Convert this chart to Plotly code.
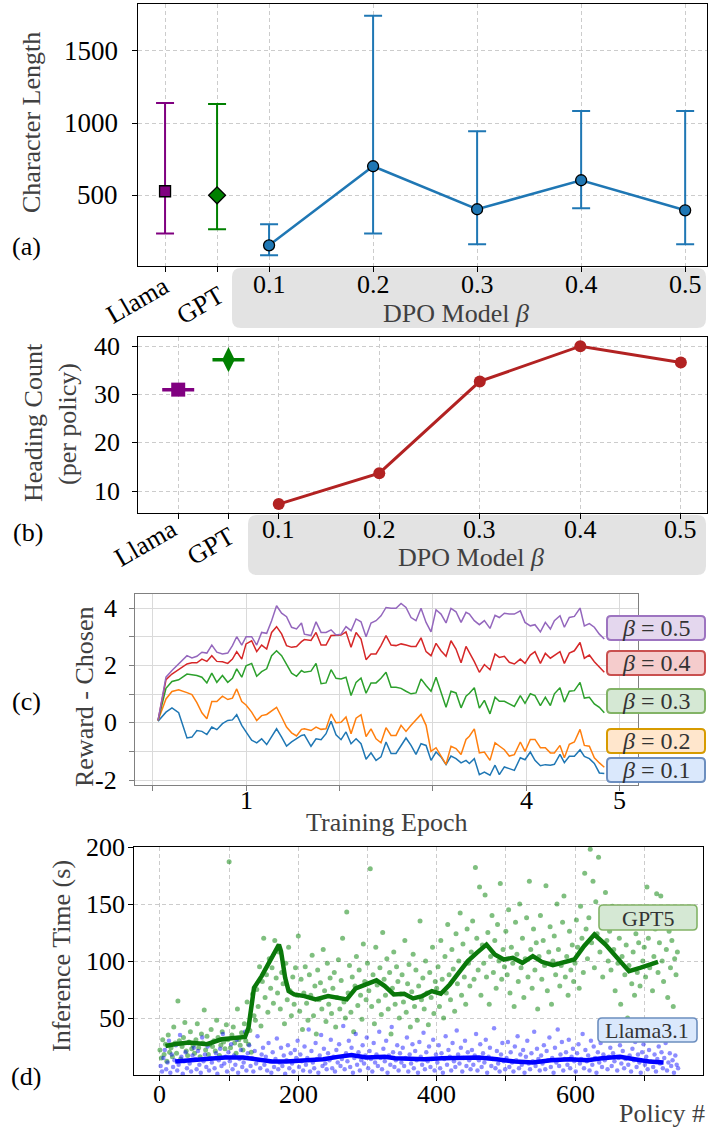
import plotly.graph_objects as go

W, H = 708, 1128
FONT = "Liberation Serif"
TITLE_COLOR = "#404040"

# ---------------- (a) character length ----------------
model_names = ["Llama", "GPT"]
model_pos = [0.0, 0.05]
model_colors = ["#800080", "#008000"]
char_len_model = [528, 500]
char_len_model_lo = [236, 264]
char_len_model_hi = [1139, 1132]

betas = [0.1, 0.2, 0.3, 0.4, 0.5]
beta_labels = ["0.1", "0.2", "0.3", "0.4", "0.5"]
char_len_beta = [153, 701, 403, 604, 396]
char_len_beta_lo = [85, 236, 160, 410, 160]
char_len_beta_hi = [299, 1743, 944, 1083, 1083]
char_len_ticks = [500, 1000, 1500]

# ---------------- (b) heading count ----------------
heading_model = [31.0, 37.2]
heading_beta = [7.3, 13.7, 32.7, 40.0, 36.6]
heading_ticks = [10, 20, 30, 40]

# ---------------- (c) chosen reward over training ----------------
epoch_ticks = [0, 1, 2, 3, 4, 5]
epoch_tick_text = ["", "1", "", "", "4", "5"]
reward_ticks = [-2, -1, 0, 1, 2, 3, 4]
reward_tick_text = ["-2", "", "0", "", "2", "", "4"]
epochs = [
    0.057, 0.142, 0.206, 0.278, 0.367, 0.420, 0.473, 0.527, 0.580, 0.633,
    0.687, 0.747, 0.804, 0.854, 0.900, 0.954, 1.000, 1.060, 1.114, 1.167,
    1.221, 1.274, 1.327, 1.381, 1.434, 1.488, 1.541, 1.594,
    1.625, 1.696, 1.750, 1.804, 1.857, 1.911, 1.964, 2.018, 2.071, 2.125,
    2.179, 2.232, 2.286, 2.339, 2.393, 2.446, 2.500, 2.554, 2.607, 2.661,
    2.714, 2.768, 2.821, 2.875, 2.929, 2.982, 3.036, 3.089, 3.143, 3.196,
    3.250, 3.304, 3.357,
    3.393, 3.446, 3.500, 3.554, 3.614, 3.668, 3.714, 3.768, 3.821, 3.875,
    3.939, 3.989, 4.046, 4.096, 4.154, 4.207, 4.261, 4.304, 4.364, 4.411,
    4.464, 4.518, 4.579, 4.625, 4.679, 4.732, 4.786, 4.839,
]
reward_b05 = [
    0.08, 1.59, 1.82, 2.05, 2.34, 2.26, 2.32, 2.46, 2.43, 2.71,
    2.46, 2.40, 2.43, 2.69, 3.00, 2.71, 3.00, 3.00, 2.71, 3.15,
    3.12, 3.56, 4.08, 3.82, 3.70, 3.33, 3.27, 3.48,
    3.09, 3.04, 3.52, 3.15, 3.15, 3.24, 3.06, 3.09, 3.35, 3.21,
    3.62, 3.52, 3.00, 3.48, 3.56, 3.73, 4.02, 3.99, 3.99, 4.16,
    4.02, 3.67, 3.56, 3.99, 3.50, 3.17, 3.94, 3.79, 3.48, 3.99,
    3.87, 3.50, 3.85,
    3.79, 3.56, 3.42, 3.56, 3.29, 3.75, 3.67, 3.82, 3.79, 3.79,
    3.90, 3.50, 3.38, 3.42, 3.17, 3.50, 3.27, 3.56, 3.73, 3.33,
    3.67, 3.71, 4.00, 3.38, 3.46, 3.33, 3.09, 2.92,
]
reward_b04 = [
    0.08, 1.50, 1.70, 1.85, 2.05, 2.09, 2.09, 2.22, 2.14, 2.34,
    2.14, 2.13, 2.07, 2.22, 2.48, 2.22, 2.75, 2.86, 2.48, 2.71,
    2.57, 3.15, 3.35, 3.10, 2.69, 2.63, 2.66, 2.83,
    2.90, 2.87, 3.15, 2.71, 2.71, 3.04, 3.04, 3.06, 3.17, 2.63,
    3.15, 2.92, 2.20, 2.40, 2.40, 2.69, 3.04, 2.71, 2.69, 2.75,
    2.71, 2.66, 2.66, 2.96, 2.48, 2.34, 2.77, 2.51, 2.32, 2.86,
    2.57, 2.09, 2.66,
    2.46, 2.13, 1.76, 2.03, 1.85, 2.40, 2.28, 2.32, 2.11, 2.05,
    2.22, 2.07, 2.36, 2.48, 2.07, 2.42, 2.25, 2.34, 2.48, 2.07,
    2.43, 2.51, 2.80, 2.25, 2.36, 2.13, 1.94, 1.76,
]
reward_b03 = [
    0.08, 1.20, 1.44, 1.50, 1.70, 1.68, 1.65, 1.59, 1.39, 1.73,
    1.41, 1.65, 1.41, 1.55, 1.88, 1.59, 1.99, 2.07, 1.62, 1.78,
    1.88, 2.34, 2.51, 2.34, 2.05, 1.73, 1.62, 1.82,
    1.76, 1.80, 2.07, 1.36, 1.39, 1.85, 1.55, 1.53, 1.59, 0.95,
    1.41, 1.56, 1.03, 1.39, 1.39, 1.55, 1.76, 1.24, 1.24, 1.20,
    1.10, 1.01, 1.04, 1.53, 1.30, 1.10, 1.59, 1.09, 0.54, 1.10,
    1.04, 0.52, 0.93,
    1.03, 1.22, 0.51, 0.78, 0.31, 0.89, 0.75, 0.75, 0.66, 0.57,
    0.95, 0.68, 1.01, 0.95, 0.60, 0.89, 0.60, 1.01, 1.22, 0.72,
    1.10, 1.12, 1.41, 0.86, 0.89, 0.66, 0.54, 0.35,
]
reward_b02 = [
    0.08, 0.83, 1.09, 1.15, 1.05, 0.98, 0.70, 0.35, 0.14, 0.74,
    0.74, 0.93, 0.81, 0.86, 1.18, 0.74, 0.62, 0.37, 0.08, 0.25,
    0.29, 0.41, 0.54, 0.20, -0.15, -0.35, -0.46, -0.23,
    -0.21, -0.27, -0.15, -0.23, -0.21, 0.31, 0.00, 0.02, 0.20, -0.38,
    0.16, 0.28, -0.48, -0.21, -0.56, -0.70, -0.17, -0.44, -0.44, -0.09,
    -0.30, -0.09, 0.08, 0.29, -0.09, -1.00, -0.87, -1.14, -1.45, -0.82,
    -0.90, -1.11, -0.58,
    -0.47, -0.21, -1.05, -1.02, -1.31, -0.70, -0.81, -0.94, -1.16, -1.11,
    -0.67, -1.00, -0.58, -0.58, -0.87, -0.87, -1.05, -1.05, -0.79, -1.22,
    -0.75, -0.67, -0.23, -0.79, -0.82, -1.22, -1.40, -1.55,
]
reward_b01 = [
    0.05, 0.37, 0.52, 0.35, -0.53, -0.50, -0.27, -0.30, -0.41, -0.15,
    -0.24, -0.03, 0.08, 0.10, 0.28, -0.09, -0.32, -0.61, -0.70, -0.56,
    -0.76, -0.46, -0.21, -0.50, -0.81, -0.67, -0.56, -0.44,
    -0.42, -0.82, -0.56, -0.59, -0.38, 0.05, -0.42, -0.59, -0.32, -0.73,
    -0.56, -0.73, -1.27, -1.05, -1.31, -1.19, -0.67, -1.07, -1.07, -0.79,
    -0.53, -0.79, -1.10, -0.73, -0.79, -1.31, -1.02, -1.19, -1.46, -1.16,
    -1.25, -1.40, -1.31,
    -1.42, -1.25, -1.81, -1.72, -1.83, -1.48, -1.81, -1.54, -1.60, -1.66,
    -1.22, -1.29, -1.02, -1.31, -1.50, -1.46, -1.48, -1.45, -1.10, -1.39,
    -1.17, -1.17, -0.94, -1.17, -1.25, -1.42, -1.75, -1.77,
]
reward_series = [
    ("0.5", reward_b05, "#9467bd", "#e4d7ee", "#9d74c0", 628),
    ("0.4", reward_b04, "#d62728", "#f5cccc", "#c9504f", 663),
    ("0.3", reward_b03, "#2ca02c", "#d5e8d4", "#82b366", 701),
    ("0.2", reward_b02, "#ff7f0e", "#ffe6cc", "#d79b00", 741),
    ("0.1", reward_b01, "#1f77b4", "#dae8fc", "#6c8ebf", 770),
]

# ---------------- (d) inference time per policy ----------------
policy_ticks = [0, 100, 200, 300, 400, 500, 600, 700]
policy_tick_text = ["0", "", "200", "", "400", "", "600", ""]
time_ticks = [50, 100, 150, 200]
gpt_policy = list(range(0, 750, 2))
gpt_time = [
    22, 15, 31, 18, 27, 12, 35, 20, 24, 16, 42, 28, 19, 65, 30, 14, 25, 33, 46, 21, 17, 29, 38, 23, 26,
    19, 31, 45, 24, 16, 36, 28, 57, 22, 34, 18, 27, 40, 25, 30, 21, 48, 33, 17, 26, 38, 29, 23, 44, 31,
    187, 24, 35, 42, 28, 19, 58, 31, 26, 37, 22, 45, 30, 64, 27, 39, 20, 71, 52, 48, 75, 60, 95, 43, 82,
    120, 68, 88, 55, 102, 76, 94, 63, 118, 85, 72, 108, 58, 90, 80, 45, 98, 66, 112, 74, 52, 86, 62, 94, 70,
    122, 56, 84, 40, 72, 95, 63, 48, 88, 70, 105, 52, 78, 36, 92, 66, 81, 58, 110, 74, 47, 98, 62, 85, 54,
    76, 90, 42, 68, 101, 58, 83, 120, 64, 50, 143, 72, 96, 55, 86, 38, 78, 104, 61, 92, 70, 49, 115, 82, 66,
    98, 74, 181, 60, 88, 45, 112, 79, 65, 94, 53, 125, 84, 70, 102, 58, 90, 36, 76, 108, 62, 95, 82, 50, 71,
    88, 64, 118, 55, 80, 97, 42, 73, 106, 60, 92, 48, 78, 135, 66, 85, 58, 100, 72, 44, 90, 68, 112, 54, 82,
    76, 95, 60, 118, 84, 50, 104, 72, 132, 88, 66, 110, 93, 56, 124, 80, 100, 142, 70, 115, 86, 62, 128, 98, 78,
    108, 135, 84, 182, 120, 92, 165, 70, 114, 98, 158, 86, 125, 62, 104, 140, 90, 118, 76, 132, 100, 168, 84, 110, 95,
    126, 88, 145, 72, 112, 98, 60, 134, 106, 82, 150, 94, 120, 68, 102, 138, 86, 170, 110, 76, 128, 92, 116, 58, 104,
    140, 84, 118, 96, 166, 74, 108, 130, 62, 100, 122, 88, 150, 110, 78, 96, 134, 157, 86, 104, 70, 126, 92, 114, 82,
    98, 136, 112, 76, 148, 120, 90, 177, 128, 102, 138, 198, 116, 170, 94, 152, 124, 191, 108, 142, 86, 130, 160, 118, 100,
    126, 92, 148, 110, 74, 136, 98, 120, 62, 104, 130, 88, 114, 50, 96, 140, 80, 108, 70, 124, 90, 116, 78, 132, 100,
    112, 86, 165, 120, 94, 138, 74, 104, 128, 159, 90, 116, 157, 100, 82, 144, 110, 68, 126, 94, 118, 60, 102, 88, 108,
]
llama_policy = list(range(1, 750, 2))
llama_time = [
    8, 3, 15, 22, 5, 11, 30, 2, 18, 7, 13, 26, 4, 9, 35, 16, 1, 12, 20, 6, 28, 10, 3, 17, 24,
    14, 5, 21, 9, 2, 33, 12, 18, 7, 25, 4, 15, 11, 29, 6, 19, 1, 13, 23, 8, 36, 10, 16, 3, 20,
    12, 27, 5, 17, 9, 31, 2, 14, 22, 7, 11, 38, 4, 19, 26, 8, 15, 3, 21, 10, 34, 13, 6, 18, 24,
    9, 16, 4, 28, 12, 2, 20, 7, 14, 32, 5, 11, 24, 8, 17, 1, 13, 26, 6, 19, 10, 3, 22, 15, 30,
    7, 18, 12, 4, 25, 9, 15, 40, 3, 21, 11, 6, 28, 14, 2, 17, 35, 8, 23, 10, 5, 19, 13, 31, 6,
    16, 3, 22, 11, 27, 8, 14, 43, 5, 19, 12, 30, 7, 24, 2, 15, 36, 9, 20, 4, 13, 26, 10, 17, 33,
    6, 21, 14, 3, 28, 11, 18, 8, 38, 15, 5, 23, 12, 30, 2, 17, 9, 42, 20, 7, 13, 26, 4, 19, 11,
    24, 8, 15, 33, 3, 18, 10, 27, 6, 21, 13, 2, 29, 16, 9, 37, 5, 20, 12, 25, 7, 14, 31, 4, 18,
    11, 26, 6, 19, 2, 14, 34, 9, 22, 16, 4, 28, 12, 7, 39, 18, 10, 24, 3, 15, 30, 8, 20, 13, 5,
    22, 9, 17, 36, 4, 13, 27, 7, 19, 11, 31, 2, 16, 24, 8, 14, 41, 6, 21, 10, 3, 18, 28, 12, 5,
    15, 29, 7, 20, 11, 3, 25, 13, 34, 6, 18, 9, 22, 2, 16, 30, 10, 5, 19, 12, 38, 8, 23, 14, 4,
    17, 10, 26, 5, 21, 13, 33, 7, 15, 2, 24, 11, 40, 8, 18, 29, 4, 14, 20, 9, 31, 6, 16, 23, 12,
    3, 19, 27, 10, 14, 36, 6, 22, 12, 17, 4, 30, 9, 25, 15, 2, 20, 11, 28, 7, 18, 13, 34, 5, 16,
    24, 8, 19, 12, 31, 4, 15, 26, 10, 21, 6, 14, 38, 9, 17, 3, 23, 13, 29, 7, 18, 11, 2, 20, 27,
    9, 16, 5, 22, 12, 33, 7, 18, 3, 14, 25, 10, 20, 6, 15, 28, 4, 11, 19, 8, 13, 2, 17, 9, 6,
]
gpt_roll_policy = [8, 21, 42, 68, 89, 110, 123, 128, 136, 147, 160, 168, 172, 175, 181, 186, 194,
                   209, 225, 243, 259, 270, 283, 298, 313, 325, 338, 353, 366, 379, 393, 406, 419,
                   432, 445, 458, 472, 484, 497, 510, 524, 539, 552, 568, 584, 599, 613, 628, 644,
                   662, 678, 694, 707, 720]
gpt_roll_time = [25.5, 27, 28.4, 27, 31.3, 32.8, 33.4, 41.5, 76.5, 86.7, 101, 108.6, 114.4, 108.6,
                 85.3, 73.6, 70.7, 69.2, 66.3, 69.2, 67.2, 66.3, 76, 80, 83, 78, 70.7, 71.3, 67.2,
                 69.2, 73.6, 71.3, 79.4, 89.7, 99.9, 107.1, 114.4, 105.7, 101.3, 102.8, 98.4, 104.2,
                 99.3, 96.4, 99.3, 101.3, 113, 123.2, 114.4, 101.3, 91.1, 94, 96.9, 99.3]
llama_roll_policy = [22, 42, 68, 94, 120, 141, 162, 183, 209, 236, 257, 277, 298, 325, 340, 361,
                     382, 408, 435, 461, 487, 513, 539, 565, 592, 618, 639, 665, 686, 707, 728]
llama_roll_time = [11.8, 13, 14.4, 15.3, 15.3, 13.8, 11.8, 11.8, 12.4, 13.8, 15.9, 17.6, 15.3,
                   15.9, 14.7, 13.8, 13.8, 14.7, 15.3, 15.3, 13.8, 11.8, 10.9, 13, 13.8, 13, 14.7,
                   15.9, 13.8, 11.8, 10.9]


def fx(px):
    return px / W


def fy(py):
    return 1 - py / H


fig = go.Figure()

# ---- (a) ----
for pos, col, sym, size, m, lo, hi in zip(model_pos, model_colors, ["square", "diamond"], [11, 13],
                                          char_len_model, char_len_model_lo, char_len_model_hi):
    fig.add_trace(go.Scatter(
        x=[pos], y=[m], mode="markers", xaxis="x", yaxis="y",
        marker=dict(symbol=sym, size=size, color=col, line=dict(color="black", width=1.3)),
        error_y=dict(type="data", symmetric=False, array=[hi - m], arrayminus=[m - lo],
                     color=col, thickness=2, width=9)))
fig.add_trace(go.Scatter(
    x=betas, y=char_len_beta, mode="lines+markers", xaxis="x", yaxis="y",
    line=dict(color="#1f77b4", width=2.5),
    marker=dict(size=11, color="#1f77b4", line=dict(color="black", width=1.3)),
    error_y=dict(type="data", symmetric=False,
                 array=[h - m for h, m in zip(char_len_beta_hi, char_len_beta)],
                 arrayminus=[m - l for m, l in zip(char_len_beta, char_len_beta_lo)],
                 color="#1f77b4", thickness=2, width=9)))

# ---- (b) ----
for pos, col, sym, size, v in zip(model_pos, model_colors, ["square", "diamond-tall"], [14, 18], heading_model):
    fig.add_trace(go.Scatter(
        x=[pos], y=[v], mode="markers", xaxis="x2", yaxis="y2",
        marker=dict(symbol=sym, size=size, color=col),
        error_y=dict(type="data", array=[0], color=col, thickness=3.5, width=16)))
fig.add_trace(go.Scatter(
    x=betas, y=heading_beta, mode="lines+markers", xaxis="x2", yaxis="y2",
    line=dict(color="#b22222", width=3), marker=dict(size=12, color="#b22222")))

# ---- (c) ----
for label, vals, col, fill, edge, ypix in reward_series[::-1]:
    fig.add_trace(go.Scatter(x=epochs, y=vals, mode="lines", xaxis="x3", yaxis="y3",
                             line=dict(color=col, width=1.5)))

# ---- (d) ----
fig.add_trace(go.Scatter(x=gpt_policy, y=gpt_time, mode="markers", xaxis="x4", yaxis="y4",
                         marker=dict(size=5, color="rgba(0,128,0,0.5)")))
fig.add_trace(go.Scatter(x=llama_policy, y=llama_time, mode="markers", xaxis="x4", yaxis="y4",
                         marker=dict(size=4.5, color="rgba(0,0,255,0.45)")))
fig.add_trace(go.Scatter(x=gpt_roll_policy, y=gpt_roll_time, mode="lines", xaxis="x4", yaxis="y4",
                         line=dict(color="#0a780a", width=4.5)))
fig.add_trace(go.Scatter(x=llama_roll_policy, y=llama_roll_time, mode="lines", xaxis="x4", yaxis="y4",
                         line=dict(color="#0000ff", width=4.5)))

base = dict(showline=True, mirror=True, linecolor="black", linewidth=1.3, ticks="outside",
            ticklen=5, tickwidth=1.2, tickcolor="black", showticklabels=False, zeroline=False,
            showgrid=True, gridcolor="#cccccc", gridwidth=1, griddash="4px,3px", automargin=False)
solid = dict(base, linecolor="#808080", tickcolor="#808080", gridcolor="#dadada", griddash="solid")

fig.update_layout(
    width=W, height=H, margin=dict(l=0, r=0, t=0, b=0, autoexpand=False),
    font=dict(family=FONT, size=26, color="black"),
    plot_bgcolor="white", paper_bgcolor="white", showlegend=False,
    xaxis=dict(base, anchor="y", domain=[fx(138), fx(707)], range=[-0.026, 0.521],
               tickvals=model_pos + betas),
    yaxis=dict(base, anchor="x", domain=[fy(266), fy(4)], range=[10, 1825], tickvals=char_len_ticks),
    xaxis2=dict(base, anchor="y2", domain=[fx(138), fx(707)], range=[-0.04, 0.526],
                tickvals=model_pos + betas),
    yaxis2=dict(base, anchor="x2", domain=[fy(513), fy(337)], range=[5.45, 41.9], tickvals=heading_ticks),
    xaxis3=dict(solid, anchor="y3", domain=[fx(135), fx(638)], range=[-0.19, 5.2], tickvals=epoch_ticks),
    yaxis3=dict(solid, anchor="x3", domain=[fy(785), fy(594)], range=[-2.17, 4.49], tickvals=reward_ticks),
    xaxis4=dict(base, anchor="y4", domain=[fx(134), fx(703)], range=[-37.5, 785], tickvals=policy_ticks),
    yaxis4=dict(base, anchor="x4", domain=[fy(1075), fy(847)], range=[0, 200], tickvals=time_ticks),
)


def rounded(x0, y0, x1, y1, r):
    X0, X1, YT, YB = fx(x0), fx(x1), fy(y0), fy(y1)
    rx, ry = r / W, r / H
    return (f"M {X0 + rx},{YT} L {X1 - rx},{YT} Q {X1},{YT} {X1},{YT - ry} "
            f"L {X1},{YB + ry} Q {X1},{YB} {X1 - rx},{YB} L {X0 + rx},{YB} "
            f"Q {X0},{YB} {X0},{YB + ry} L {X0},{YT - ry} Q {X0},{YT} {X0 + rx},{YT} Z")


shapes = [
    dict(type="path", xref="paper", yref="paper", path=rounded(232, 268, 706, 328, 9),
         fillcolor="#e3e3e3", line=dict(width=0), layer="below"),
    dict(type="path", xref="paper", yref="paper", path=rounded(248, 515, 706, 575, 9),
         fillcolor="#e3e3e3", line=dict(width=0), layer="below"),
]
annotations = []


def ann(text, x, y, size=26, color=TITLE_COLOR, angle=0, xref="paper", yref="paper", xanchor="center"):
    annotations.append(dict(text=text,
                            x=fx(x) if xref == "paper" else x,
                            y=fy(y) if yref == "paper" else y,
                            xref=xref, yref=yref, showarrow=False, textangle=angle,
                            xanchor=xanchor, yanchor="middle",
                            font=dict(family=FONT, size=size, color=color)))


def x_tick_labels(xref, vals, texts, ypix):
    for v, t in zip(vals, texts):
        if t:
            ann(t, v, ypix, color="black", xref=xref)


def y_tick_labels(yref, vals, texts, xpix, size=26):
    for v, t in zip(vals, texts):
        if t:
            ann(t, xpix, v, size=size, color="black", yref=yref, xanchor="right")


# panel (a) labels
ann("Character Length", 31, 123, angle=-90)
ann("(a)", 26, 246, color="black")
y_tick_labels("y", char_len_ticks, [str(v) for v in char_len_ticks], 120, size=27)
x_tick_labels("x", betas, beta_labels, 284)
ann("Llama", 137, 300, color="black", angle=-30)
ann("GPT", 200, 306, color="black", angle=-30)
ann("DPO Model <i>β</i>", 456, 313)

# panel (b) labels
ann("Heading Count", 33, 423, angle=-90)
ann("(per policy)", 67, 424, angle=-90)
ann("(b)", 28, 532, color="black")
y_tick_labels("y2", heading_ticks, [str(v) for v in heading_ticks], 122)
x_tick_labels("x2", betas, beta_labels, 529)
ann("Llama", 145, 543, color="black", angle=-30)
ann("GPT", 210, 546, color="black", angle=-30)
ann("DPO Model <i>β</i>", 471, 557)

# panel (c) labels and series tags
ann("Reward - Chosen", 84, 697, angle=-90)
ann("(c)", 26, 701, color="black")
y_tick_labels("y3", reward_ticks, reward_tick_text, 119)
x_tick_labels("x3", epoch_ticks, epoch_tick_text, 800)
ann("Training Epoch", 387, 822)
for label, vals, col, fill, edge, ypix in reward_series:
    shapes.append(dict(type="path", xref="paper", yref="paper",
                       path=rounded(607, ypix - 12, 705, ypix + 12, 4),
                       fillcolor=fill, line=dict(color=edge, width=2)))
    ann(f"<i>β</i> = {label}", 656, ypix, size=24, color="#333333")

# panel (d) labels and series tags
ann("Inference Time (s)", 62, 956, angle=-90)
ann("(d)", 26, 1076, color="black")
y_tick_labels("y4", time_ticks, [str(v) for v in time_ticks], 127)
x_tick_labels("x4", policy_ticks, policy_tick_text, 1094)
ann("Policy #", 662, 1113)
shapes.append(dict(type="path", xref="paper", yref="paper", path=rounded(599, 905, 697, 930, 4),
                   fillcolor="#d5e8d4", line=dict(color="#82b366", width=1.6)))
ann("GPT5", 648, 918, size=22, color="#333333")
shapes.append(dict(type="path", xref="paper", yref="paper", path=rounded(598, 1018, 697, 1042, 4),
                   fillcolor="#dae8fc", line=dict(color="#6c8ebf", width=1.6)))
ann("Llama3.1", 647, 1030, size=22, color="#333333")

fig.update_layout(shapes=shapes, annotations=annotations)
fig.write_html("out.html")
